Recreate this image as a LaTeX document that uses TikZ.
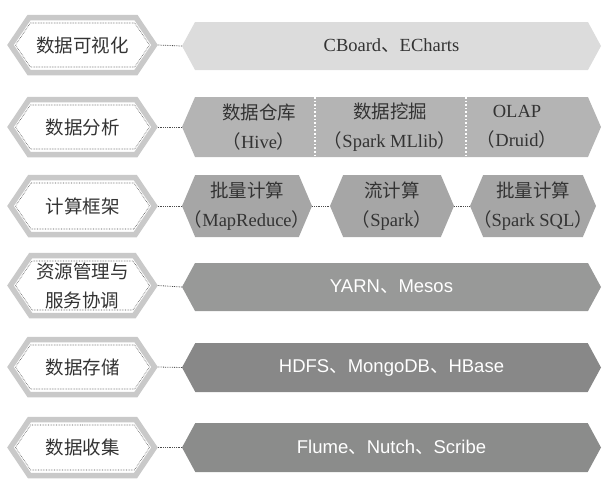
\documentclass[tikz,border=0pt]{standalone}
\usepackage{fontspec}
\usepackage{xcolor}
\setmainfont{Liberation Serif}
\newfontfamily\cjk{Noto Sans CJK SC}
\newfontfamily\arialfont{Liberation Sans}
\usetikzlibrary{shapes.symbols}

\definecolor{hexgray}{HTML}{C9C9C9}
\definecolor{visgray}{HTML}{DCDCDC}
\definecolor{anagray}{HTML}{B4B4B4}
\definecolor{partgray}{HTML}{A6A6A6}
\definecolor{resgray}{HTML}{989998}
\definecolor{storegray}{HTML}{888888}
\definecolor{collgray}{HTML}{8B8C8B}
\definecolor{textdark}{HTML}{333333}

\newcommand\zh[1]{{\cjk #1}}
\newcommand\txtsize{\fontsize{18.5}{29}\selectfont}

\tikzset{
  layer/.style={signal, signal to=west and east, signal pointer angle=112,
    draw=hexgray, line width=5.5pt, fill=white, inner sep=0pt,
    minimum width=144pt},
  layerdots/.style={signal, signal to=west and east, signal pointer angle=112,
    draw=black!70, densely dotted, line width=0.6pt, inner sep=0pt,
    minimum width=134pt, font=\cjk\txtsize, align=center, text=textdark},
  bar/.style={signal, signal to=west and east, signal pointer angle=123,
    inner sep=0pt, minimum width=419pt, minimum height=48pt, align=center},
  part/.style={signal, signal to=west and east, signal pointer angle=134,
    fill=partgray, inner sep=0pt, minimum height=62pt},
  cell/.style={text=textdark, align=center, font=\txtsize, inner sep=0pt},
  link/.style={densely dotted, line width=0.8pt, black!70},
}

\begin{document}
\begin{tikzpicture}[x=1pt, y=-1pt, font=\txtsize]
  \useasboundingbox (0,0) rectangle (608,480);

  % left column: layer names
  \foreach \n/\y/\h/\txt in {vis/45/55/{数据可视化}, ana/127/55/{数据分析},
      comp/206/57/{计算框架}, res/285.5/60/{资源管理与\\服务协调},
      store/367/55/{数据存储}, coll/447.5/56/{数据收集}} {
    \node[layer, minimum height=\h pt] (\n) at (82.5,\y) {};
    \node[layerdots, minimum height=\h pt-11pt] (\n-in) at (\n) {\txt};
  }

  % visualisation
  \node[bar, fill=visgray, text=textdark, font=\txtsize] (vis-bar) at (391.5,46) {CBoard\zh{、}ECharts};

  % analysis, split in three
  \node[bar, fill=anagray, minimum height=60pt, signal pointer angle=133] (ana-bar) at (391.5,127) {};
  \draw[white, dotted, line width=1.6pt] (315,97) -- (315,157);
  \draw[white, dotted, line width=1.6pt] (466,97) -- (466,157);
  \node[cell] (hive) at (259,127) {\zh{数据仓库}\\\zh{（}Hive\zh{）}};
  \node[cell] (mllib) at (390,127) {\zh{数据挖掘}\\\zh{（}Spark MLlib\zh{）}};
  \node[cell] (druid) at (517,127) {OLAP\\\zh{（}Druid\zh{）}};

  % computing frameworks
  \node[part, minimum width=130pt] (batch) at (247,206) {};
  \node[part, minimum width=124pt] (stream) at (392,206) {};
  \node[part, minimum width=126pt] (sql) at (533,206) {};
  \node[cell] (batch-txt) at (batch) {\zh{批量计算}\\\zh{（}MapReduce\zh{）}};
  \node[cell] (stream-txt) at (stream) {\zh{流计算}\\\zh{（}Spark\zh{）}};
  \node[cell] (sql-txt) at (sql) {\zh{批量计算}\\\zh{（}Spark SQL\zh{）}};

  % lower layers
  \node[bar, fill=resgray, text=white, font=\arialfont\txtsize] (res-bar) at (391.5,287) {YARN\zh{、}Mesos};
  \node[bar, fill=storegray, text=white, font=\arialfont\txtsize, minimum height=49pt] (store-bar) at (391.5,367.5) {HDFS\zh{、}MongoDB\zh{、}HBase};
  \node[bar, fill=collgray, text=white, font=\arialfont\txtsize, minimum height=49pt] (coll-bar) at (391.5,447.5) {Flume\zh{、}Nutch\zh{、}Scribe};

  % dotted links
  \foreach \n in {vis, ana, res, store, coll}
    \draw[link] (\n.east) -- (\n-bar.west);
  \draw[link] (comp.east) -- (batch.west);
  \draw[link] (batch.east) -- (stream.west);
  \draw[link] (stream.east) -- (sql.west);
\end{tikzpicture}
\end{document}
